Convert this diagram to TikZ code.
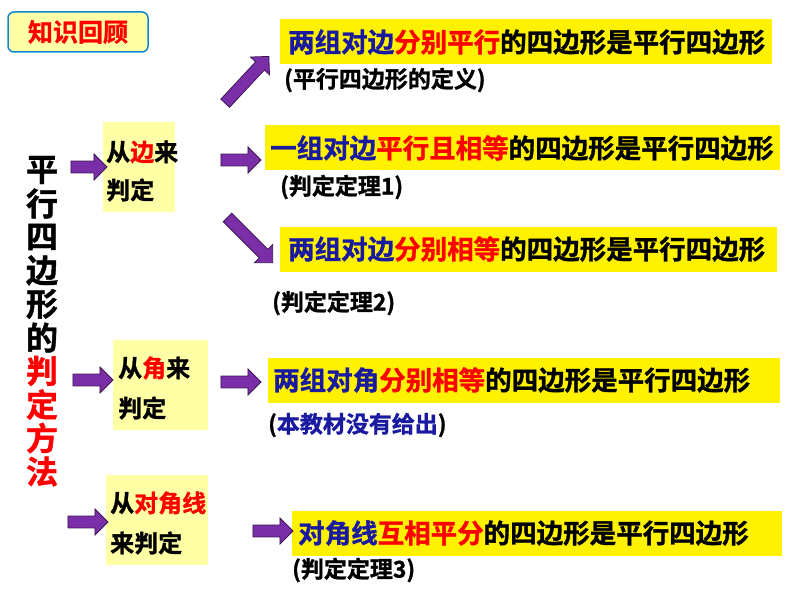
\documentclass[tikz,border=0pt]{standalone}
\usepackage{fontspec}
\setmainfont{Noto Sans CJK SC Bold}[FakeBold=1.2]
\usetikzlibrary{shapes.arrows}
\definecolor{paleyellow}{HTML}{FFFFA6}
\definecolor{txtblue}{HTML}{1A1AA0}
\definecolor{arrowviolet}{HTML}{7A2FA8}
\tikzset{
	blockarrow/.style={single arrow,draw=arrowviolet!50!black,fill=arrowviolet,minimum width=26pt,single arrow head extend=4pt,inner sep=3pt,line width=0.8pt},
	waybox/.style={rectangle,fill=paleyellow,anchor=north west,inner sep=0pt},
	waytext/.style={anchor=west,font=\fontsize{24}{26}\selectfont,inner sep=0pt},
	rulebox/.style={rectangle,fill=yellow,anchor=west,minimum height=45pt,font=\fontsize{26.5}{28}\selectfont,inner sep=0pt,align=left},
	note/.style={anchor=west,font=\fontsize{23}{26}\selectfont,inner sep=0pt}
}
\newcommand{\bl}[1]{\textcolor{txtblue}{#1}}
\newcommand{\rd}[1]{\textcolor{red}{#1}}
\begin{document}
\begin{tikzpicture}[x=1pt,y=-1pt]
	\useasboundingbox (0,0) rectangle (794,596);
	\node (review)[rectangle,rounded corners=6pt,draw=cyan!70!blue,line width=1.5pt,fill=paleyellow,minimum width=140pt,minimum height=40pt,font=\fontsize{25}{26}\selectfont,text=red] at (78,32) {知识回顾};

	% vertical title
	\foreach \ch/\k in {平/0,行/1,四/2,边/3,形/4,的/5}{
		\node[font=\fontsize{32}{32}\selectfont,inner sep=0pt] at (42,170+33.5*\k) {\ch};
	}
	\foreach \ch/\k in {判/6,定/7,方/8,法/9}{
		\node[font=\fontsize{32}{32}\selectfont,inner sep=0pt,text=red] at (42,170+33.5*\k) {\ch};
	}

	% three ways
	\node (side)[waybox,minimum width=72pt,minimum height=90pt] at (103,122) {};
	\node[waytext] at (106,152) {从\rd{边}来};
	\node[waytext] at (106,190) {判定};
	\node (angle)[waybox,minimum width=95pt,minimum height=90pt] at (113,340) {};
	\node[waytext] at (118,368) {从\rd{角}来};
	\node[waytext] at (118,408) {判定};
	\node (diag)[waybox,minimum width=102pt,minimum height=90pt] at (106,475) {};
	\node[waytext] at (110,503) {从\rd{对角线}};
	\node[waytext] at (110,543) {来判定};

	% criteria
	\node (r1)[rulebox,text width=492pt] at (280,42) {\hspace*{8pt}\bl{两组对边}\rd{分别平行}的四边形是平行四边形};
	\node[note] at (284,80) {(平行四边形的定义)};
	\node (r2)[rulebox,text width=515pt] at (265,148) {\hspace*{5pt}\bl{一组对边}\rd{平行且相等}的四边形是平行四边形};
	\node[note] at (280,187) {(判定定理1)};
	\node (r3)[rulebox,text width=497pt] at (280,249) {\hspace*{8pt}\bl{两组对边}\rd{分别相等}的四边形是平行四边形};
	\node[note] at (272,303) {(判定定理2)};
	\node (r4)[rulebox,text width=512pt] at (268,380) {\hspace*{5pt}\bl{两组对角}\rd{分别相等}的四边形是平行四边形};
	\node[note] at (268,425) {(\bl{本教材没有给出})};
	\node (r5)[rulebox,text width=490pt] at (292,533) {\hspace*{6pt}\bl{对角线}\rd{互相平分}的四边形是平行四边形};
	\node[note] at (292,570) {(判定定理3)};

	% arrows
	\node (a1)[blockarrow,minimum height=36pt] at (86,167) {};
	\node (a2)[blockarrow,minimum height=40pt] at (90,380) {};
	\node (a3)[blockarrow,minimum height=40pt] at (85,522) {};
	\node (b1)[blockarrow,minimum height=64pt,rotate=47] at (245,82) {};
	\node (b2)[blockarrow,minimum height=40pt] at (238,160) {};
	\node (b3)[blockarrow,minimum height=64pt,rotate=-45] at (248,238) {};
	\node (b4)[blockarrow,minimum height=40pt] at (238,382) {};
	\node (b5)[blockarrow,minimum height=40pt] at (270,531) {};
\end{tikzpicture}
\end{document}
